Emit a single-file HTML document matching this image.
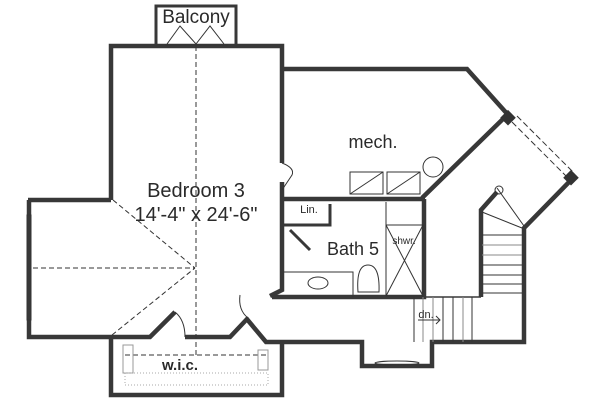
<!DOCTYPE html>
<html><head><style>
html,body{margin:0;padding:0;background:#fff;}
svg{display:block;}
text{font-family:"Liberation Sans",sans-serif;fill:#2a2a2a;}
</style></head><body>
<svg width="600" height="403" viewBox="0 0 600 403" xmlns="http://www.w3.org/2000/svg">
<g fill="none" stroke="#383838" stroke-width="4.5" stroke-linejoin="miter">
<rect x="156" y="6" width="80" height="40" stroke-width="3"/>
<polyline points="111,200 111,46 282,46 282,163"/>
<polyline points="282,69 467,69 510,117"/>
<polyline points="28,200 111,200"/>
<polyline points="29,200 29,337 150,337 175,312"/>
<polyline points="185,337 230,337 248,318"/>
<polyline points="246,318 266,342 362,342 362,366 432,366 432,342 524,342 524,228 573,178"/>
<polyline points="282,182 282,290 270,296"/>
<polyline points="282,199 425,199"/>
<polyline points="424,199 424,297 272,297"/>
<polyline points="422,198 505,117"/>
<polyline points="481,297 481,210 497,192"/>
<line x1="425" y1="297" x2="481" y2="297" stroke-width="1.5"/>
<polyline points="283,225 330,225 330,204" stroke-width="3"/>
<line x1="290" y1="230" x2="310" y2="250" stroke-width="3"/>
<polyline points="111,337 111,395 282,395 282,342"/>
</g>
<rect x="503" y="112" width="11" height="11" fill="#333" transform="rotate(45 508 117)"/>
<rect x="566" y="172" width="11" height="11" fill="#333" transform="rotate(45 571 177)"/>
<g fill="none" stroke="#333" stroke-width="1">
<line x1="512" y1="122" x2="568" y2="178" stroke-dasharray="6,3"/>
<line x1="517" y1="116" x2="573" y2="172" stroke-dasharray="6,3"/>
<rect x="27" y="215" width="4" height="105"/>
<line x1="165" y1="45" x2="228" y2="45"/>
<polyline points="167,44 180,26 196,44 210,26 224,44"/>
<g stroke-dasharray="5,3">
<line x1="196" y1="46" x2="196" y2="355"/>
<line x1="33" y1="268" x2="195" y2="268"/>
<line x1="113" y1="200" x2="195" y2="268"/>
<line x1="112" y1="335" x2="195" y2="268"/>
<line x1="125" y1="355" x2="268" y2="355"/>
</g>
<path d="M175,312 Q185,320 185,337"/>
<path d="M248,318 Q238,310 240,295"/>
<path d="M282,163 Q295,168 292,175 L282,190"/>
<rect x="350" y="172" width="33" height="22"/><line x1="350" y1="194" x2="383" y2="172"/>
<rect x="387" y="172" width="33" height="22"/><line x1="387" y1="194" x2="420" y2="172"/>
<circle cx="433" cy="167" r="10"/>
<rect x="386" y="225" width="37" height="71"/>
<line x1="386" y1="225" x2="423" y2="296"/><line x1="423" y1="225" x2="386" y2="296"/>
<line x1="386" y1="202" x2="386" y2="225"/>
<polyline points="283,272 353,272 353,297"/>
<ellipse cx="318" cy="283" rx="10" ry="6"/>
<path d="M358,292 Q356,265 368,265 Q380,265 379,292 Z"/>
<line x1="482" y1="212" x2="522" y2="228"/>
<line x1="497" y1="188" x2="524" y2="226"/>
<circle cx="499" cy="190" r="4"/>
<line x1="482" y1="235" x2="522" y2="235"/>
<line x1="482" y1="245" x2="522" y2="245" stroke="#888"/>
<line x1="482" y1="255" x2="522" y2="255" stroke="#888"/>
<line x1="482" y1="265" x2="522" y2="265"/>
<line x1="482" y1="275" x2="522" y2="275"/>
<line x1="482" y1="284" x2="522" y2="284"/>
<line x1="482" y1="293" x2="522" y2="293"/>
<line x1="414" y1="297" x2="414" y2="342"/>
<line x1="423" y1="297" x2="423" y2="342" stroke="#888"/>
<line x1="433" y1="297" x2="433" y2="342" stroke="#888"/>
<line x1="443" y1="297" x2="443" y2="342"/>
<line x1="453" y1="297" x2="453" y2="342"/>
<line x1="463" y1="297" x2="463" y2="342" stroke="#888"/>
<line x1="472" y1="297" x2="472" y2="342"/>
<path d="M418,320 L440,320 M436,316 L440,320 L436,324"/>
<rect x="123" y="345" width="10" height="28" stroke="#999"/>
<rect x="258" y="350" width="10" height="20" stroke="#999"/>
<rect x="125" y="373" width="143" height="12" stroke="#aaa" stroke-dasharray="1,2"/>
<ellipse cx="397" cy="363" rx="22" ry="2"/>
</g>
<text x="196" y="23" font-size="19" text-anchor="middle">Balcony</text>
<text x="196" y="197" font-size="20" text-anchor="middle">Bedroom 3</text>
<text x="196" y="221" font-size="20" text-anchor="middle">14'-4" x 24'-6"</text>
<text x="373" y="148" font-size="18" text-anchor="middle">mech.</text>
<text x="353" y="255" font-size="18" text-anchor="middle">Bath 5</text>
<text x="309" y="213" font-size="11" text-anchor="middle">Lin.</text>
<text x="404" y="244" font-size="10" text-anchor="middle">shwr.</text>
<text x="180" y="370" font-size="15" text-anchor="middle" font-weight="bold">w.i.c.</text>
<text x="426" y="318" font-size="11" text-anchor="middle">dn.</text>
</svg>
</body></html>
